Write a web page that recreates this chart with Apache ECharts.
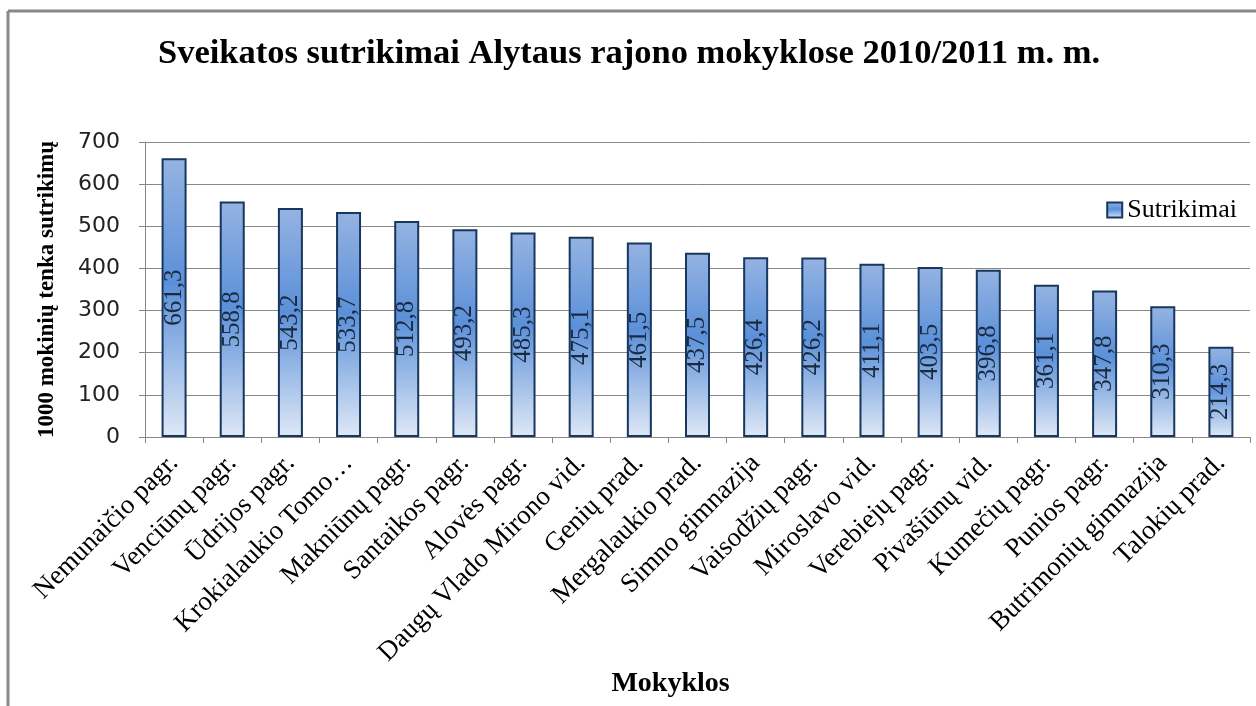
<!DOCTYPE html>
<html>
<head>
<meta charset="utf-8">
<script src="https://cdn.jsdelivr.net/npm/echarts@6/dist/echarts.min.js"></script>
<style>html,body{margin:0;padding:0;background:#fff}#c{width:1256px;height:706px}</style>
</head>
<body>
<div id="c"></div>
<script>
const categories = ["Nemunaičio pagr.", "Venciūnų pagr.", "Ūdrijos pagr.", "Krokialaukio Tomo\u2026", "Makniūnų pagr.", "Santaikos pagr.", "Alovės pagr.", "Daugų Vlado Mirono vid.", "Genių prad.", "Mergalaukio prad.", "Simno gimnazija", "Vaisodžių pagr.", "Miroslavo vid.", "Verebiejų pagr.", "Pivašiūnų vid.", "Kumečių pagr.", "Punios pagr.", "Butrimonių gimnazija", "Talokių prad."];
const values = [661.3, 558.8, 543.2, 533.7, 512.8, 493.2, 485.3, 475.1, 461.5, 437.5, 426.4, 426.2, 411.1, 403.5, 396.8, 361.1, 347.8, 310.3, 214.3];
const seriesName = "Sutrikimai";

const chart = echarts.init(document.getElementById('c'));
const grad = new echarts.graphic.LinearGradient(0, 0, 0, 1, [
  {offset: 0, color: '#95b3e2'},
  {offset: 0.45, color: '#5b90d9'},
  {offset: 1, color: '#dfe8f6'}
]);
const serif = 'Liberation Serif';
chart.setOption({
  animation: false,
  title: {
    text: 'Sveikatos sutrikimai Alytaus rajono mokyklose 2010/2011 m. m.',
    left: 624, top: 32, textAlign: 'center',
    textStyle: {fontFamily: serif, fontWeight: 'bold', fontSize: 34.5, color: '#000'}
  },
  legend: {
    right: 14, top: 192,
    itemWidth: 15, itemHeight: 15, itemGap: 4,
    textStyle: {fontFamily: serif, fontSize: 26, color: '#000'},
    data: [{name: seriesName, icon: 'rect', itemStyle: {color: grad, borderColor: '#17375e', borderWidth: 2}}]
  },
  graphic: [
    {type: 'line', shape: {x1: 8, y1: 11, x2: 1256, y2: 11}, style: {stroke: '#888', lineWidth: 3}},
    {type: 'line', shape: {x1: 8, y1: 11, x2: 8, y2: 706}, style: {stroke: '#888', lineWidth: 3}}
  ],
  grid: {left: 145, right: 6, top: 142, bottom: 269},
  xAxis: {
    type: 'category', data: categories,
    name: 'Mokyklos', nameLocation: 'middle', nameGap: 220,
    nameTextStyle: {fontFamily: serif, fontWeight: 'bold', fontSize: 28, color: '#000', padding: [0, 54, 0, 0]},
    axisLine: {lineStyle: {color: '#888'}},
    axisTick: {show: true, length: 6, lineStyle: {color: '#888'}},
    axisLabel: {rotate: 45, interval: 0, margin: 22, fontFamily: serif, fontSize: 27, color: '#000'}
  },
  yAxis: {
    type: 'value', min: 0, max: 700, interval: 100,
    name: '1000 mokinių tenka sutrikimų', nameLocation: 'middle', nameGap: 86,
    nameTextStyle: {fontFamily: serif, fontWeight: 'bold', fontSize: 23, color: '#000'},
    axisLine: {show: true, lineStyle: {color: '#888'}},
    axisTick: {show: true, length: 6, lineStyle: {color: '#888'}},
    splitLine: {lineStyle: {color: '#888'}},
    axisLabel: {margin: 25, fontFamily: 'DejaVu Sans', fontSize: 22, color: '#222'}
  },
  series: [{
    name: seriesName, type: 'bar', data: values, barWidth: 25,
    itemStyle: {color: grad, borderColor: '#17375e', borderWidth: 2},
    label: {
      show: true, position: 'inside', rotate: 90,
      fontFamily: serif, fontSize: 25, color: '#1a2a40',
      formatter: p => '{v|' + String(p.value).replace('.', ',') + '}',
      rich: {v: {fontFamily: serif, fontSize: 25, color: '#1a2a40'}}
    }
  }]
});
</script>
</body>
</html>
